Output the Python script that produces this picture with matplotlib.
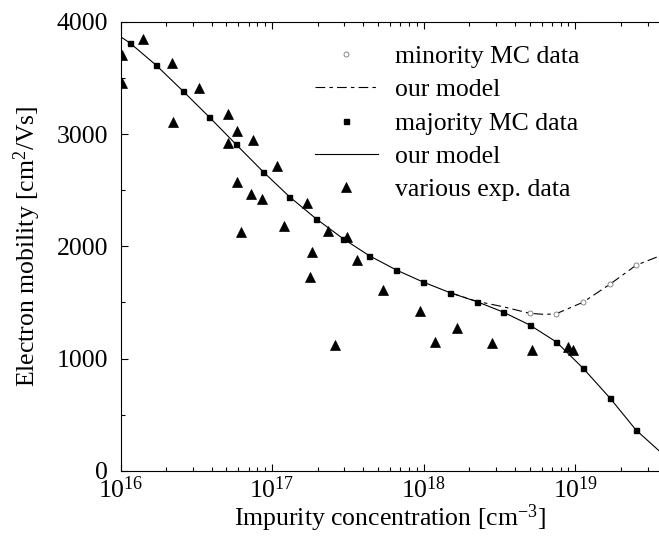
import numpy as np
import matplotlib
matplotlib.use('Agg')
import matplotlib.pyplot as plt
from matplotlib.lines import Line2D
from matplotlib.legend_handler import HandlerLine2D
from matplotlib.ticker import MultipleLocator

# majority carrier Monte Carlo points (squares)
maj_conc = [1.15e16, 1.72e16, 2.58e16, 3.86e16, 5.79e16, 8.7e16, 1.30e17, 1.95e17,
            2.94e17, 4.38e17, 6.6e17, 9.9e17, 1.49e18, 2.24e18, 3.33e18, 5.0e18,
            7.5e18, 1.12e19, 1.69e19, 2.51e19]
maj_mob = [3815, 3614, 3385, 3151, 2908, 2667, 2443, 2246, 2068, 1916, 1789, 1682,
           1587, 1507, 1415, 1299, 1147, 916, 648, 363]

# minority carrier Monte Carlo points (open circles)
min_conc = [5.0e18, 7.5e18, 1.12e19, 1.69e19, 2.51e19]
min_mob = [1403, 1400, 1501, 1662, 1831]

# model curves
model_maj_conc = [1.0e16] + maj_conc + [3.56e19]
model_maj_mob = [3869] + maj_mob + [178]
model_min_conc = [1.49e18, 2.24e18, 3.33e18, 5.0e18, 6.3e18, 7.5e18, 1.12e19,
                  1.69e19, 2.51e19, 3.56e19]
model_min_mob = [1587, 1510, 1462, 1403, 1393, 1400, 1501, 1662, 1831, 1912]

# experimental data (triangles)
exp_conc = [1.40e16, 1.02e16, 1.03e16, 2.19e16, 2.21e16, 3.28e16, 5.08e16, 5.86e16,
            5.14e16, 7.51e16, 1.07e17, 5.84e16, 7.29e16, 8.55e16, 1.70e17, 6.25e16,
            1.20e17, 2.33e17, 3.11e17, 1.82e17, 3.61e17, 1.77e17, 5.42e17, 9.46e17,
            1.66e18, 2.60e17, 1.18e18, 2.80e18, 5.15e18, 8.95e18, 9.70e18]
exp_mob = [3846, 3706, 3453, 3637, 3110, 3409, 3182, 3028,
           2919, 2945, 2718, 2576, 2469, 2420, 2386, 2128,
           2181, 2134, 2085, 1953, 1874, 1729, 1611, 1424,
           1275, 1122, 1145, 1141, 1076, 1105, 1076]


class MarkerAtEnd(HandlerLine2D):
    # put the legend marker at the right end of the handle, next to the text
    def get_xdata(self, legend, xdescent, ydescent, width, height, fontsize):
        xdata = np.array([-xdescent, -xdescent + width])
        return xdata, np.array([-xdescent + width])


plt.rcParams['font.family'] = ['Liberation Serif', 'DejaVu Serif']
plt.rcParams['mathtext.fontset'] = 'custom'
plt.rcParams['mathtext.rm'] = 'Liberation Serif'
plt.rcParams['mathtext.it'] = 'Liberation Serif:italic'
plt.rcParams['font.size'] = 18.5
plt.rcParams['lines.scale_dashes'] = False

fig = plt.figure(figsize=(6.59, 5.38), dpi=100)
ax = fig.add_axes([120.5 / 659, 1 - 470.7 / 538, 1 - 120.5 / 659, (470.7 - 22) / 538])

h1, = ax.plot(min_conc, min_mob, linestyle='none', marker='o', markersize=3.6,
              markerfacecolor='white', markeredgecolor='#777777', markeredgewidth=0.6,
              label='minority MC data', zorder=4)
h2, = ax.plot(model_min_conc, model_min_mob, color='black', linewidth=0.8,
              dashes=(7, 3, 2.5, 3), label='our model', zorder=3)
h3, = ax.plot(maj_conc, maj_mob, linestyle='none', marker='s', markersize=3.6,
              color='black', label='majority MC data', zorder=4)
h4, = ax.plot(model_maj_conc, model_maj_mob, color='black', linewidth=0.8,
              label='our model', zorder=3)
h5, = ax.plot(exp_conc, exp_mob, linestyle='none', marker='^', markersize=6.5,
              color='black', markeredgewidth=0.5, label='various exp. data', zorder=5)

ax.set_xscale('log')
ax.set_xlim(1e16, 3.56e19)
ax.set_ylim(0, 4000)
ax.yaxis.set_major_locator(MultipleLocator(1000))
ax.yaxis.set_minor_locator(MultipleLocator(500))

ax.spines['right'].set_visible(False)
for s in ['left', 'bottom', 'top']:
    ax.spines[s].set_linewidth(0.8)

ax.tick_params(which='both', direction='in', top=True, right=False, width=0.8)
ax.tick_params(which='major', length=5)
ax.tick_params(which='minor', length=3)
ax.tick_params(axis='y', which='major', pad=9)
ax.tick_params(axis='x', which='major', pad=4)

ax.set_xlabel('Impurity concentration [cm$^{-3}$]', labelpad=0)
ax.set_ylabel('Electron mobility [cm$^2$/Vs]', labelpad=10)

ax.legend(handles=[h1, h2, h3, h4, h5], handler_map={Line2D: MarkerAtEnd()},
          loc='upper left', bbox_to_anchor=(315 / 659, 1 - 45 / 538),
          bbox_transform=fig.transFigure, frameon=False, borderpad=0,
          borderaxespad=0, handlelength=2.45, handletextpad=0.66,
          labelspacing=0.40, fontsize=18.5)

fig.savefig('out.png', dpi=100)
